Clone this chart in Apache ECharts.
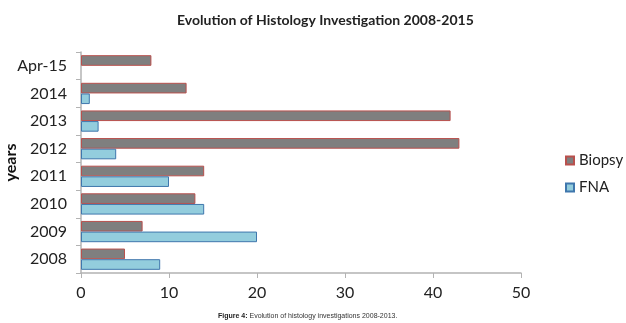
<!DOCTYPE html>
<html>
<head>
<meta charset="utf-8">
<script src="https://cdn.jsdelivr.net/npm/echarts@6/dist/echarts.min.js"></script>
<style>
  html, body { margin: 0; padding: 0; background: #fff; }
  #chart { width: 626px; height: 323px; }
</style>
</head>
<body>
<div id="chart"></div>
<script>
// data
const years = ["2008", "2009", "2010", "2011", "2012", "2013", "2014", "Apr-15"];
const biopsy = [5, 7, 13, 14, 43, 42, 12, 8];
const fna = [9, 20, 14, 10, 4, 2, 1, "-"]; // no FNA bar for Apr-15
const xTicks = [0, 10, 20, 30, 40, 50];

const chart = echarts.init(document.getElementById("chart"));
const axisGray = "#b3b3b3";
const font = "Lato, 'Open Sans', sans-serif";

const option = {
  animation: false,
  title: [
    {
      text: "Evolution of Histology Investigation 2008-2015",
      left: 172,
      top: 8,
      textStyle: { fontFamily: font, fontSize: 14, fontWeight: "bold", color: "#222" },
    },
    {
      text: "{b|Figure 4:} Evolution of histology investigations 2008-2013.",
      left: 213,
      top: 308,
      textStyle: {
        fontFamily: "'Liberation Sans', Arial, sans-serif",
        fontSize: 7,
        fontWeight: "normal",
        color: "#333",
        rich: { b: { fontWeight: "bold", fontSize: 7, color: "#222" } },
      },
    },
  ],
  legend: {
    orient: "vertical",
    left: 560,
    top: 148,
    itemGap: 12,
    itemWidth: 8,
    itemHeight: 8,
    icon: "rect",
    textStyle: { fontFamily: font, fontSize: 15, color: "#222" },
    data: ["Biopsy", "FNA"],
  },
  grid: { left: 81, right: 105, top: 52, bottom: 50, outerBoundsMode: "none" },
  xAxis: {
    type: "value",
    min: 0,
    max: 50,
    interval: 10,
    axisLine: { show: true, lineStyle: { color: axisGray, width: 1.5 } },
    axisTick: { show: true, length: 5, lineStyle: { color: axisGray } },
    axisLabel: {
      margin: 12,
      fontFamily: font,
      fontSize: 16,
      color: "#222",
      formatter: (v) => (xTicks.includes(v) ? String(v) : ""),
    },
    splitLine: { show: false },
  },
  yAxis: {
    type: "category",
    data: years,
    name: "years",
    nameLocation: "middle",
    nameGap: 62,
    nameMoveOverlap: false,
    nameTextStyle: { fontFamily: font, fontSize: 16, fontWeight: "bold", color: "#111" },
    axisLine: { lineStyle: { color: axisGray, width: 1.5 } },
    axisTick: { show: true, length: 5, lineStyle: { color: axisGray } },
    axisLabel: { margin: 14, fontFamily: font, fontSize: 16, color: "#222" },
  },
  series: [
    {
      name: "Biopsy",
      type: "bar",
      data: biopsy,
      barGap: "0%",
      barCategoryGap: "23%",
      itemStyle: { color: "#7f7f7f", borderColor: "#b9504d", borderWidth: 1 },
    },
    {
      name: "FNA",
      type: "bar",
      data: fna,
      itemStyle: { color: "#93cddd", borderColor: "#3f77ad", borderWidth: 1 },
    },
  ],
};
chart.setOption(option);
</script>
</body>
</html>
